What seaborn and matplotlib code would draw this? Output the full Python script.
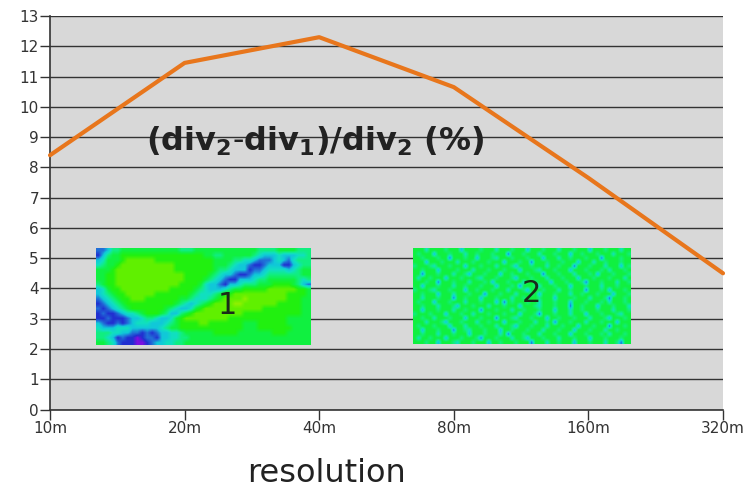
import numpy as np
import pandas as pd
import seaborn as sns
import matplotlib.pyplot as plt
from matplotlib.colors import LinearSegmentedColormap

resolutions = ["10m", "20m", "40m", "80m", "160m", "320m"]
diff_pct = [8.4, 11.45, 12.3, 10.65, 7.65, 4.5]
y_ticks = list(range(14))

# hand read coarse maps of the two small pictures, 0 = violet ... 9 = yellow green
map_1 = [
    "22355666666666666555666666666666655556666555",
    "13566777777777777777776655666666543334333445",
    "34666788888877777777777766665544322234324555",
    "45667888888888887777777766654332112333113455",
    "66678888888888887777777765543331223444434566",
    "66778888888888888877777654332112334555555566",
    "66778888888888888877776543211333455666666545",
    "56778888888888888777764332133455566677776532",
    "34677888888888877777654333456677777888888776",
    "34567788888877777776544456778888888888877776",
    "23456778887777777665444567888898888888877766",
    "12345677777777776543456788889988888887777766",
    "21234567777777654334678888888888887777777766",
    "12112344567776533567888888888877777777777766",
    "11211123345543346788888888877777777777766666",
    "32112123444333456777788777777766677777766666",
    "43334443333334566777777777777766677777776666",
    "55544332212123344566666677777666666677766666",
    "55431211012213344556666666666666666666666666",
    "66542111001233445566666666666666666666666666",
]
map_2 = [
    "66646666566636666566646665666366656664666566636665666466",
    "65666366656664665666566626665666466656663665666566646665",
    "66566656626665663666546665666566636664665666566626666566",
    "66636665666466656665666366656626665666566636664665666566",
    "56665466656663666566646665366656664665666266656664666365",
    "66566636666566646665666566636665466656663666566656466656",
    "66266656664665366656663665666566626665666466656366656665",
    "64665666366656665466656665366656664666566636665666566646",
    "66656626665666466656366656664665666366656665266656664665",
    "66366656664665666566636665626665466656663666566646665666",
    "56665466656663665666566646665366656664665666266656366656",
    "66566636664666566626665666466656366656664665666566636665",
    "66466656662665666366656664665666566636666566646665266656",
    "65666366656664666566636265666566466656663666566656466656",
    "66566646665366656664666566636665466656662665666366656664",
    "66366656664665666266656664665666566636664665666566646665",
    "56665666366656646665666566636665266656664666366656665466",
    "66566466656663666566626665466656663665666566646665366656",
    "66646665366656664665666366656664665626665666466656663666",
    "65666566636664666566646665366656664666566636665666266656",
    "66366656662665466656663665666566646665666366656664665666",
    "66566646665666366656664626665666466656663666566656466656",
    "64665666366656665266656664665366656664666566636665666566",
    "66656636665466656663665666566626664665666366656664665266",
]

colors_map = ["#7a10e0", "#2030d0", "#2070d8", "#10c8d8", "#10e0c0",
              "#10ee80", "#10f040", "#20f010", "#60f000", "#90f000"]
cmap = LinearSegmentedColormap.from_list("veg", colors_map)

sns.set_theme(style="white", font="DejaVu Sans")
df = pd.DataFrame({"pos": np.arange(len(resolutions)), "diff": diff_pct})

fig = plt.figure(figsize=(7.48, 4.88), dpi=100)
W, H = 748.0, 488.0


def px_axes(x0, y0, x1, y1, **kw):
    return fig.add_axes([x0 / W, 1 - y1 / H, (x1 - x0) / W, (y1 - y0) / H], **kw)


ax = px_axes(50, 16, 723, 409.5)
ax.set_facecolor("#d8d8d8")
ax.set_axisbelow(True)
ax.yaxis.grid(True, color="#333333", linewidth=1)
ax.xaxis.grid(False)
sns.lineplot(data=df, x="pos", y="diff", color="#e8761c", linewidth=3, ax=ax, clip_on=False, zorder=5)

ax.set_xlim(0, len(resolutions) - 1)
ax.set_ylim(0, 13)
ax.set_xticks(df["pos"])
ax.set_xticklabels(resolutions)
ax.set_yticks(y_ticks)
ax.tick_params(axis="both", labelsize=11, color="#333333", labelcolor="#333333", length=7, width=1, bottom=True, left=True, pad=1)
ax.set_xlabel("")
ax.set_ylabel("")
for name, sp in ax.spines.items():
    sp.set_visible(name in ("left", "bottom"))
    sp.set_color("#333333")
    sp.set_linewidth(1.2)

fig.text(315 / W, 1 - 141 / H, r"$\mathbf{(div_2\text{-}div_1)/div_2\ (\%)}$", fontsize=23,
         ha="center", va="center", color="#222222")
fig.text(326 / W, 1 - 474 / H, "resolution", fontsize=23, ha="center", va="center", color="#222222")

for bounds, rows, interp, label, lx, ly in [
    ((96, 248, 311, 345), map_1, "bilinear", "1", 227, 305),
    ((413, 248, 631, 344), map_2, "bilinear", "2", 531, 293),
]:
    inset = px_axes(*bounds)
    n = min(len(r) for r in rows)
    grid = np.array([[int(c) for c in r[:n]] for r in rows])
    inset.imshow(grid, cmap=cmap, vmin=0, vmax=9, aspect="auto", interpolation=interp)
    inset.axis("off")
    fig.text(lx / W, 1 - ly / H, label, fontsize=22, ha="center", va="center", color="#1a2a1a")

fig.savefig("out.png", dpi=100, facecolor="white")
